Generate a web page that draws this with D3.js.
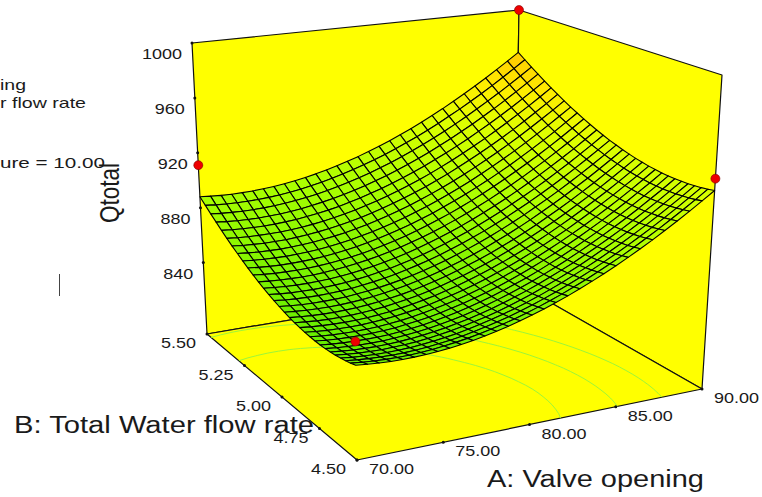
<!DOCTYPE html>
<html lang="en">
<head>
    <meta charset="UTF-8">
    <title>Qtotal response surface</title>
    <script src="https://d3js.org/d3.v7.min.js"></script>
    <style>
        html, body { margin: 0; padding: 0; background: #fff; }
        svg { display: block; }
        text { font-family: "Liberation Sans", Arial, sans-serif; fill: #1a1a1a; }
    </style>
</head>
<body>
<svg width="762" height="497"></svg>
<script>
    var valveTicks = [70, 75, 80, 85, 90];
    var flowTicks = [4.5, 4.75, 5, 5.25, 5.5];
    var qTicks = [840, 880, 920, 960, 1000];

    // design points
    var pointValve = [70, 90, 90, 70];
    var pointFlow = [5.5, 5.5, 4.5, 4.5];
    var pointQ = [911, 1000, 930, 863];

    var contourLevels = [867, 885, 903];

    // rows go by flow rate 4.5 -> 5.5, columns by valve opening 70 -> 90
    var qGrid = [
        [848.0,847.2,846.6,846.2,846.1,846.2,846.5,847.0,847.8,848.8,850.0,851.5,853.1,855.0,857.2,859.5,862.1,864.9,867.9,871.2,874.7,878.4,882.3,886.5,890.9,895.5,900.4,905.4,910.7,916.3,922.0],
        [846.9,846.1,845.5,845.2,845.0,845.1,845.4,846.0,846.8,847.8,849.0,850.4,852.1,854.0,856.1,858.5,861.1,863.9,866.9,870.2,873.7,877.4,881.4,885.5,889.9,894.6,899.4,904.5,909.8,915.3,921.1],
        [846.0,845.2,844.6,844.3,844.1,844.2,844.5,845.1,845.9,846.9,848.1,849.6,851.3,853.2,855.3,857.7,860.3,863.1,866.1,869.4,872.9,876.6,880.6,884.7,889.1,893.8,898.6,903.7,909.0,914.6,920.3],
        [845.3,844.4,843.9,843.5,843.4,843.5,843.8,844.4,845.2,846.2,847.4,848.9,850.6,852.5,854.6,857.0,859.6,862.4,865.5,868.7,872.3,876.0,879.9,884.1,888.5,893.2,898.0,903.1,908.4,914.0,919.8],
        [844.7,843.9,843.3,843.0,842.8,843.0,843.3,843.8,844.6,845.7,846.9,848.4,850.1,852.0,854.1,856.5,859.1,861.9,865.0,868.3,871.8,875.5,879.5,883.7,888.1,892.7,897.6,902.7,908.0,913.6,919.3],
        [844.3,843.5,842.9,842.6,842.4,842.6,842.9,843.5,844.3,845.3,846.5,848.0,849.7,851.6,853.8,856.2,858.8,861.6,864.7,868.0,871.5,875.2,879.2,883.4,887.8,892.4,897.3,902.4,907.7,913.3,919.1],
        [844.0,843.2,842.7,842.3,842.2,842.3,842.7,843.3,844.1,845.1,846.3,847.8,849.5,851.5,853.6,856.0,858.6,861.5,864.5,867.8,871.3,875.1,879.1,883.3,887.7,892.3,897.2,902.3,907.7,913.2,919.0],
        [843.9,843.1,842.6,842.3,842.2,842.3,842.6,843.2,844.0,845.0,846.3,847.8,849.5,851.4,853.6,856.0,858.6,861.5,864.5,867.8,871.4,875.1,879.1,883.3,887.7,892.4,897.3,902.4,907.7,913.3,919.1],
        [844.0,843.2,842.7,842.4,842.3,842.4,842.8,843.3,844.2,845.2,846.4,847.9,849.7,851.6,853.8,856.2,858.8,861.7,864.7,868.0,871.6,875.3,879.3,883.5,888.0,892.6,897.5,902.6,908.0,913.5,919.3],
        [844.3,843.5,842.9,842.6,842.5,842.7,843.0,843.6,844.4,845.5,846.8,848.3,850.0,851.9,854.1,856.5,859.1,862.0,865.1,868.4,871.9,875.7,879.7,883.9,888.3,893.0,897.9,903.0,908.4,914.0,919.8],
        [844.7,843.9,843.4,843.1,843.0,843.1,843.5,844.1,844.9,846.0,847.2,848.7,850.5,852.4,854.6,857.0,859.6,862.5,865.6,868.9,872.5,876.2,880.2,884.4,888.9,893.6,898.5,903.6,909.0,914.5,920.3],
        [845.3,844.5,844.0,843.7,843.6,843.7,844.1,844.7,845.5,846.6,847.9,849.4,851.1,853.1,855.3,857.7,860.3,863.2,866.3,869.6,873.1,876.9,880.9,885.2,889.6,894.3,899.2,904.3,909.7,915.3,921.1],
        [846.0,845.3,844.7,844.4,844.4,844.5,844.9,845.5,846.3,847.4,848.7,850.2,851.9,853.9,856.1,858.5,861.2,864.0,867.1,870.5,874.0,877.8,881.8,886.0,890.5,895.2,900.1,905.2,910.6,916.2,922.0],
        [846.9,846.2,845.7,845.4,845.3,845.5,845.8,846.5,847.3,848.4,849.6,851.2,852.9,854.9,857.1,859.5,862.2,865.0,868.1,871.5,875.0,878.8,882.8,887.1,891.5,896.2,901.2,906.3,911.7,917.3,923.1],
        [848.0,847.3,846.8,846.5,846.4,846.6,847.0,847.6,848.4,849.5,850.8,852.3,854.1,856.0,858.2,860.7,863.3,866.2,869.3,872.7,876.2,880.0,884.0,888.3,892.8,897.4,902.4,907.5,912.9,918.5,924.3],
        [849.3,848.5,848.0,847.7,847.7,847.8,848.2,848.9,849.7,850.8,852.1,853.6,855.4,857.4,859.6,862.0,864.7,867.6,870.7,874.0,877.6,881.4,885.4,889.7,894.1,898.8,903.8,908.9,914.3,919.9,925.8],
        [850.7,849.9,849.4,849.2,849.1,849.3,849.7,850.3,851.2,852.3,853.6,855.1,856.9,858.9,861.1,863.5,866.2,869.1,872.2,875.5,879.1,882.9,887.0,891.2,895.7,900.4,905.3,910.5,915.9,921.5,927.3],
        [852.3,851.5,851.0,850.8,850.7,850.9,851.3,851.9,852.8,853.9,855.2,856.7,858.5,860.5,862.7,865.2,867.8,870.8,873.9,877.2,880.8,884.6,888.7,892.9,897.4,902.1,907.1,912.2,917.6,923.2,929.1],
        [854.0,853.3,852.8,852.5,852.5,852.7,853.1,853.7,854.6,855.7,857.0,858.6,860.3,862.3,864.6,867.0,869.7,872.6,875.7,879.1,882.7,886.5,890.5,894.8,899.3,904.0,909.0,914.1,919.5,925.2,931.0],
        [855.9,855.2,854.7,854.5,854.4,854.6,855.0,855.7,856.6,857.7,859.0,860.5,862.3,864.3,866.6,869.0,871.7,874.6,877.7,881.1,884.7,888.5,892.6,896.8,901.3,906.1,911.0,916.2,921.6,927.2,933.1],
        [858.0,857.3,856.8,856.6,856.5,856.7,857.2,857.8,858.7,859.8,861.1,862.7,864.5,866.5,868.7,871.2,873.9,876.8,879.9,883.3,886.9,890.7,894.8,899.1,903.6,908.3,913.2,918.4,923.8,929.5,935.3],
        [860.3,859.6,859.1,858.8,858.8,859.0,859.4,860.1,861.0,862.1,863.4,865.0,866.8,868.8,871.0,873.5,876.2,879.1,882.3,885.7,889.3,893.1,897.1,901.4,905.9,910.7,915.6,920.8,926.2,931.9,937.8],
        [862.7,862.0,861.5,861.3,861.2,861.5,861.9,862.5,863.4,864.6,865.9,867.5,869.3,871.3,873.5,876.0,878.7,881.6,884.8,888.2,891.8,895.6,899.7,904.0,908.5,913.2,918.2,923.4,928.8,934.5,940.3],
        [865.3,864.6,864.1,863.9,863.8,864.1,864.5,865.2,866.1,867.2,868.5,870.1,871.9,873.9,876.2,878.7,881.4,884.3,887.5,890.9,894.5,898.3,902.4,906.7,911.2,915.9,920.9,926.1,931.6,937.2,943.1],
        [868.0,867.3,866.9,866.6,866.6,866.8,867.3,868.0,868.9,870.0,871.3,872.9,874.7,876.8,879.0,881.5,884.2,887.2,890.3,893.7,897.3,901.2,905.3,909.6,914.1,918.8,923.8,929.0,934.5,940.1,946.0],
        [870.9,870.2,869.8,869.6,869.6,869.8,870.2,870.9,871.8,873.0,874.3,875.9,877.7,879.8,882.0,884.5,887.2,890.2,893.3,896.7,900.4,904.2,908.3,912.6,917.1,921.9,926.9,932.1,937.5,943.2,949.1],
        [874.0,873.3,872.9,872.7,872.7,872.9,873.4,874.0,875.0,876.1,877.4,879.0,880.9,882.9,885.2,887.7,890.4,893.4,896.5,899.9,903.6,907.4,911.5,915.8,920.4,925.1,930.1,935.3,940.8,946.4,952.3],
        [877.3,876.6,876.1,875.9,875.9,876.2,876.6,877.3,878.2,879.4,880.8,882.4,884.2,886.2,888.5,891.0,893.7,896.7,899.9,903.3,906.9,910.8,914.9,919.2,923.7,928.5,933.5,938.7,944.2,949.9,955.8],
        [880.7,880.0,879.6,879.4,879.4,879.6,880.1,880.8,881.7,882.9,884.2,885.8,887.7,889.7,892.0,894.5,897.2,900.2,903.4,906.8,910.5,914.3,918.4,922.7,927.3,932.1,937.1,942.3,947.8,953.4,959.3],
        [884.3,883.6,883.2,883.0,883.0,883.2,883.7,884.4,885.3,886.5,887.9,889.5,891.3,893.4,895.7,898.2,900.9,903.9,907.1,910.5,914.1,918.0,922.1,926.5,931.0,935.8,940.8,946.0,951.5,957.2,963.1],
        [888.0,887.4,886.9,886.7,886.8,887.0,887.5,888.2,889.1,890.3,891.7,893.3,895.1,897.2,899.5,902.0,904.8,907.7,910.9,914.4,918.0,921.9,926.0,930.3,934.9,939.7,944.7,949.9,955.4,961.1,967.0]
    ];

    var svg = d3.select('svg');

    var u = d3.scaleLinear().domain([70, 90]).range([0, 1]);
    var v = d3.scaleLinear().domain([4.5, 5.5]).range([0, 1]);
    var h = d3.scaleLinear().domain([788, 1000]).range([0, 1]);
    var color = d3.scaleLinear()
        .domain([842, 888, 925, 945, 967])
        .range(['#66ee00', '#aaff00', '#e0ff00', '#ffee00', '#ffc800']);

    // box corners on screen: (70,4.5) (90,4.5) (90,5.5) (70,5.5)
    var floorBox = [[357, 460], [702, 389], [514.5, 282], [207, 334]];
    var topBox = [[352.5, 125], [722, 75], [519, 10], [192, 43]];

    function bilinear(box, a, b) {
        return [0, 1].map(function (k) {
            var near = box[0][k] + (box[1][k] - box[0][k]) * a;
            var far = box[3][k] + (box[2][k] - box[3][k]) * a;
            return near + (far - near) * b;
        });
    }

    function project(a, b, t) {
        var low = bilinear(floorBox, a, b);
        var high = bilinear(topBox, a, b);
        return [low[0] + (high[0] - low[0]) * t, low[1] + (high[1] - low[1]) * t];
    }

    function place(valve, flow, q) {
        return project(u(valve), v(flow), h(q));
    }

    var line = d3.line();

    function poly(points, fill, stroke, width) {
        svg.append('path')
            .attr('d', line(points) + 'Z')
            .attr('fill', fill)
            .attr('stroke', stroke)
            .attr('stroke-width', width)
            .attr('stroke-linejoin', 'round');
    }

    // walls and floor
    poly([place(70, 5.5, 788), place(90, 5.5, 788), place(90, 5.5, 1000), place(70, 5.5, 1000)], '#ffff00', '#111', 1.2);
    poly([place(90, 5.5, 788), place(90, 4.5, 788), place(90, 4.5, 1000), place(90, 5.5, 1000)], '#ffff00', '#111', 1.2);
    poly([place(70, 4.5, 788), place(90, 4.5, 788), place(90, 5.5, 788), place(70, 5.5, 788)], '#ffff00', '#111', 1.2);

    // floor contours, the runs along the grid border are left out
    var rows = qGrid.length, cols = qGrid[0].length;
    var contours = d3.contours().size([cols, rows]).thresholds(contourLevels)(qGrid.flat());
    function onBorder(d) {
        return d[0] <= 0.5 || d[0] >= cols - 0.5 || d[1] <= 0.5 || d[1] >= rows - 0.5;
    }
    function floorPoint(d) {
        var a = Math.min(1, Math.max(0, (d[0] - 0.5) / (cols - 1)));
        var b = Math.min(1, Math.max(0, (d[1] - 0.5) / (rows - 1)));
        return project(a, b, 0);
    }
    contours.forEach(function (c) {
        c.coordinates.forEach(function (polygon) {
            polygon.forEach(function (ring) {
                d3.range(ring.length - 1).forEach(function (n) {
                    if (onBorder(ring[n]) && onBorder(ring[n + 1])) return;
                    svg.append('path')
                        .attr('d', line([floorPoint(ring[n]), floorPoint(ring[n + 1])]))
                        .attr('fill', 'none')
                        .attr('stroke', '#9cf53a')
                        .attr('stroke-width', 1);
                });
            });
        });
    });

    // surface, back corner first
    var cells = [];
    d3.range(rows - 1).forEach(function (j) {
        d3.range(cols - 1).forEach(function (i) {
            cells.push({ i: i, j: j });
        });
    });
    cells.sort(function (p, q) { return (q.i + q.j) - (p.i + p.j); });
    cells.forEach(function (c) {
        var corners = [[c.i, c.j], [c.i + 1, c.j], [c.i + 1, c.j + 1], [c.i, c.j + 1]];
        var mean = d3.mean(corners, function (d) { return qGrid[d[1]][d[0]]; });
        poly(corners.map(function (d) {
            return project(d[0] / (cols - 1), d[1] / (rows - 1), h(qGrid[d[1]][d[0]]));
        }), color(mean), '#000', 1.1);
    });

    // tick dots and labels
    function tick(p, label, anchor, dx, dy) {
        svg.append('circle').attr('cx', p[0]).attr('cy', p[1]).attr('r', 1.5).attr('fill', '#111');
        svg.append('text')
            .attr('transform', 'translate(' + (p[0] + dx) + ',' + (p[1] + dy) + ') scale(1.2,1)')
            .attr('text-anchor', anchor)
            .attr('font-size', 15)
            .text(label);
    }
    valveTicks.forEach(function (d) { tick(place(d, 4.5, 788), d3.format('.2f')(d), 'start', 12, 14); });
    flowTicks.forEach(function (d) { tick(place(70, d, 788), d3.format('.2f')(d), 'end', -11, 14); });
    qTicks.forEach(function (d) { tick(place(70, 5.5, d), d, 'end', -10, 16); });

    // design points
    pointQ.forEach(function (d, n) {
        var p = place(pointValve[n], pointFlow[n], d);
        svg.append('circle')
            .attr('cx', p[0]).attr('cy', p[1]).attr('r', 4.5)
            .attr('fill', '#ee0000').attr('stroke', '#7a0000').attr('stroke-width', 0.6);
    });

    // titles and the cut off legend
    function label(x, y, str, size, length, rotate) {
        svg.append('text')
            .attr('transform', 'translate(' + x + ',' + y + ')' + (rotate ? ' rotate(-90)' : ''))
            .attr('font-size', size)
            .attr('textLength', length)
            .attr('lengthAdjust', 'spacingAndGlyphs')
            .text(str);
    }
    label(487, 487, 'A: Valve opening', 23, 217);
    label(14, 433, 'B: Total Water flow rate', 23, 300);
    label(119, 223, 'Qtotal', 28, 60, true);
    label(0, 90, 'ing', 15, 26);
    label(0, 108, 'r flow rate', 15, 86);
    label(0, 168, 'ure = 10.00', 15, 105);

    svg.append('line')
        .attr('x1', 59.5).attr('x2', 59.5).attr('y1', 274).attr('y2', 296)
        .attr('stroke', '#444').attr('stroke-width', 1);
</script>
</body>
</html>
